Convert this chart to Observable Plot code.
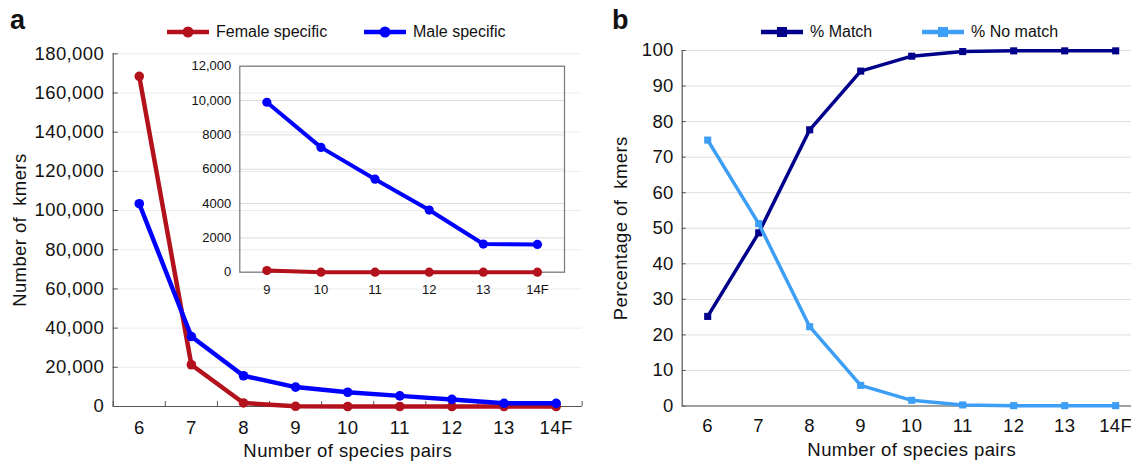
<!DOCTYPE html>
<html><head><meta charset="utf-8">
<script src="https://cdn.jsdelivr.net/npm/d3@7"></script>
<script src="https://cdn.jsdelivr.net/npm/@observablehq/plot@0.6"></script>
<style>
html,body{margin:0;padding:0;background:#fff;overflow:hidden}
#root{position:relative;width:1131px;height:462px;font-family:"Liberation Sans",Arial,Helvetica,sans-serif;color:#111;overflow:hidden}
#root svg text{white-space:pre}
.box{position:absolute}
.box svg{max-width:none !important;overflow:visible;background:transparent}
.panel{position:absolute;font-weight:bold;font-size:27px;line-height:27px}
.leg{position:absolute;height:20px;display:flex;align-items:center;font-size:16px;white-space:pre}
.leg svg{margin-right:7px}
</style></head><body><div id="root"></div>
<script>
// ---------- data ----------
const categories = ["6", "7", "8", "9", "10", "11", "12", "13", "14F"];
const femaleSpecific = [168500, 21300, 1800, 100, 0, 0, 0, 0, 0];
const maleSpecific = [103500, 35700, 15700, 9900, 7270, 5420, 3620, 1640, 1620];
const insetFirst = 3; // inset shows categories from "9" onward
const pctMatch = [25.2, 48.7, 77.7, 94.2, 98.4, 99.7, 99.9, 99.9, 99.9];
const pctNoMatch = [74.8, 51.3, 22.3, 5.8, 1.6, 0.3, 0.1, 0.1, 0.1];
const seriesNamesA = ["Female specific", "Male specific"];
const seriesNamesB = ["% Match", "% No match"];
const yTicksA = [0, 20000, 40000, 60000, 80000, 100000, 120000, 140000, 160000, 180000];
const yTicksInset = [0, 2000, 4000, 6000, 8000, 10000, 12000];
const yTicksB = [0, 10, 20, 30, 40, 50, 60, 70, 80, 90, 100];

// ---------- styles ----------
const cFemale = "#b3121c", cMale = "#0000ff", cMatch = "#00008b", cNoMatch = "#3d9ef6";
const font = '"Liberation Sans", Arial, Helvetica, sans-serif';
const axisColor = "#555";
const mainStyle = {fontFamily: font, fontSize: "18.5px", letterSpacing: "0.4px", color: "#111", background: "transparent"};

const root = document.getElementById("root");
function place(el, left, top, w) {
  const d = document.createElement("div");
  d.className = "box"; d.style.left = left + "px"; d.style.top = top + "px"; d.style.width = w + "px";
  d.appendChild(el); root.appendChild(d);
}
const idx = categories.map((c, i) => i);
const bounds = d3.range(-0.5, categories.length, 1);
const fem = idx.map(i => ({i, v: femaleSpecific[i]}));
const mal = idx.map(i => ({i, v: maleSpecific[i]}));

// ---------- panel a : main ----------
const plotA = Plot.plot({
  width: 590, height: 462,
  marginLeft: 112.7, marginRight: 8.3, marginTop: 53.3, marginBottom: 56,
  style: mainStyle,
  x: {type: "linear", domain: [-0.5, categories.length - 0.5]},
  y: {domain: [0, 180000]},
  marks: [
    Plot.ruleY(yTicksA, {stroke: "#ececec", strokeWidth: 1}),
    Plot.ruleY(yTicksA, {x1: -0.5, x2: -0.5, insetRight: -5, stroke: axisColor}),
    Plot.ruleX(bounds, {y1: 0, y2: 0, insetTop: -5, stroke: axisColor}),
    Plot.ruleX([-0.5], {stroke: axisColor, strokeWidth: 1.2}),
    Plot.ruleY([0], {stroke: axisColor, strokeWidth: 1.2}),
    Plot.axisY({ticks: yTicksA, tickSize: 0, tickPadding: 9, tickFormat: d3.format(","), label: null}),
    Plot.axisX({ticks: idx, tickSize: 0, tickPadding: 14, tickFormat: i => categories[i], label: null}),
    Plot.line(fem, {x: "i", y: "v", stroke: cFemale, strokeWidth: 4.5}),
    Plot.dot(fem, {x: "i", y: "v", r: 4.8, fill: cFemale}),
    Plot.line(mal, {x: "i", y: "v", stroke: cMale, strokeWidth: 4.5}),
    Plot.dot(mal, {x: "i", y: "v", r: 4.8, fill: cMale}),
    Plot.text(["Number of species pairs"], {frameAnchor: "bottom", dy: 50, fontSize: 18.5, fill: "#111"}),
    Plot.text(["Number of  kmers"], {frameAnchor: "left", textAnchor: "middle", lineAnchor: "middle", dx: -92.7, rotate: -90, fontSize: 18.5, fill: "#111"})
  ]
});
place(plotA, 0, 0, 590);

// ---------- panel a : inset ----------
const insetCats = categories.slice(insetFirst);
const insetIdx = insetCats.map((c, j) => j);
const femI = insetIdx.map(j => ({j, v: femaleSpecific[j + insetFirst]}));
const malI = insetIdx.map(j => ({j, v: maleSpecific[j + insetFirst]}));
const plotInset = Plot.plot({
  width: 400, height: 260,
  marginLeft: 69.3, marginRight: 6, marginTop: 15.7, marginBottom: 38.3,
  style: {fontFamily: font, fontSize: "13px", color: "#111", background: "transparent"},
  x: {type: "linear", domain: [-0.5, insetCats.length - 0.5]},
  y: {domain: [0, 12000]},
  marks: [
    Plot.ruleY(yTicksInset, {stroke: "#dcdcdc", strokeWidth: 1}),
    Plot.frame({stroke: "#777", strokeWidth: 1.2}),
    Plot.axisY({ticks: yTicksInset, tickSize: 0, tickPadding: 8.6, tickFormat: d => d >= 10000 ? d3.format(",")(d) : String(d), label: null}),
    Plot.axisX({ticks: insetIdx, tickSize: 0, tickPadding: 13, tickFormat: j => insetCats[j], label: null}),
    Plot.line(femI, {x: "j", y: "v", stroke: cFemale, strokeWidth: 4}),
    Plot.dot(femI, {x: "j", y: "v", r: 4.6, fill: cFemale}),
    Plot.line(malI, {x: "j", y: "v", stroke: cMale, strokeWidth: 4}),
    Plot.dot(malI, {x: "j", y: "v", r: 4.6, fill: cMale})
  ]
});
place(plotInset, 170, 50, 400);

// ---------- panel b ----------
const mat = idx.map(i => ({i, v: pctMatch[i]}));
const nom = idx.map(i => ({i, v: pctNoMatch[i]}));
const plotB = Plot.plot({
  width: 551, height: 462,
  marginLeft: 91.7, marginRight: 0.3, marginTop: 50, marginBottom: 56.5,
  style: mainStyle,
  x: {type: "linear", domain: [-0.5, categories.length - 0.5]},
  y: {domain: [0, 100]},
  marks: [
    Plot.ruleY(yTicksB, {stroke: "#dedede", strokeWidth: 1}),
    Plot.ruleY(yTicksB, {x1: -0.5, x2: -0.5, insetRight: -4, stroke: axisColor}),
    Plot.ruleX([-0.5], {stroke: axisColor, strokeWidth: 1.2}),
    Plot.ruleY([0], {stroke: axisColor, strokeWidth: 1.2}),
    Plot.axisY({ticks: yTicksB, tickSize: 0, tickPadding: 8.4, label: null}),
    Plot.axisX({ticks: idx, tickSize: 0, tickPadding: 13, tickFormat: i => categories[i], label: null}),
    Plot.line(mat, {x: "i", y: "v", stroke: cMatch, strokeWidth: 3.5}),
    Plot.dot(mat, {x: "i", y: "v", r: 4, symbol: "square", fill: cMatch}),
    Plot.line(nom, {x: "i", y: "v", stroke: cNoMatch, strokeWidth: 3.5}),
    Plot.dot(nom, {x: "i", y: "v", r: 4, symbol: "square", fill: cNoMatch}),
    Plot.text(["Number of species pairs"], {frameAnchor: "bottom", dy: 50, fontSize: 18.5, fill: "#111"}),
    Plot.text(["Percentage of  kmers"], {frameAnchor: "left", textAnchor: "middle", lineAnchor: "middle", dx: -61, rotate: -90, fontSize: 18.5, fill: "#111"})
  ]
});
place(plotB, 590, 0, 551);

// ---------- panel letters ----------
function letter(t, left) {
  const d = document.createElement("div");
  d.className = "panel"; d.textContent = t; d.style.left = left + "px"; d.style.top = "7px";
  root.appendChild(d);
}
letter("a", 10); letter("b", 612);

// ---------- legends ----------
function legend(label, color, shape, left) {
  const d = document.createElement("div");
  d.className = "leg"; d.style.left = left + "px"; d.style.top = "21.7px";
  const ns = "http://www.w3.org/2000/svg";
  const s = document.createElementNS(ns, "svg");
  s.setAttribute("width", 42); s.setAttribute("height", 14);
  const l = document.createElementNS(ns, "line");
  l.setAttribute("x1", 0); l.setAttribute("x2", 42); l.setAttribute("y1", 7); l.setAttribute("y2", 7);
  l.setAttribute("stroke", color); l.setAttribute("stroke-width", 4.5);
  s.appendChild(l);
  let m;
  if (shape === "circle") {
    m = document.createElementNS(ns, "circle");
    m.setAttribute("cx", 21); m.setAttribute("cy", 7); m.setAttribute("r", 5.5);
  } else {
    m = document.createElementNS(ns, "rect");
    m.setAttribute("x", 16); m.setAttribute("y", 2); m.setAttribute("width", 10); m.setAttribute("height", 10);
  }
  m.setAttribute("fill", color);
  s.appendChild(m);
  d.appendChild(s);
  d.appendChild(document.createTextNode(label));
  root.appendChild(d);
}
legend(seriesNamesA[0], cFemale, "circle", 167);
legend(seriesNamesA[1], cMale, "circle", 364);
legend(seriesNamesB[0], cMatch, "square", 761);
legend(seriesNamesB[1], cNoMatch, "square", 922);
</script></body></html>
